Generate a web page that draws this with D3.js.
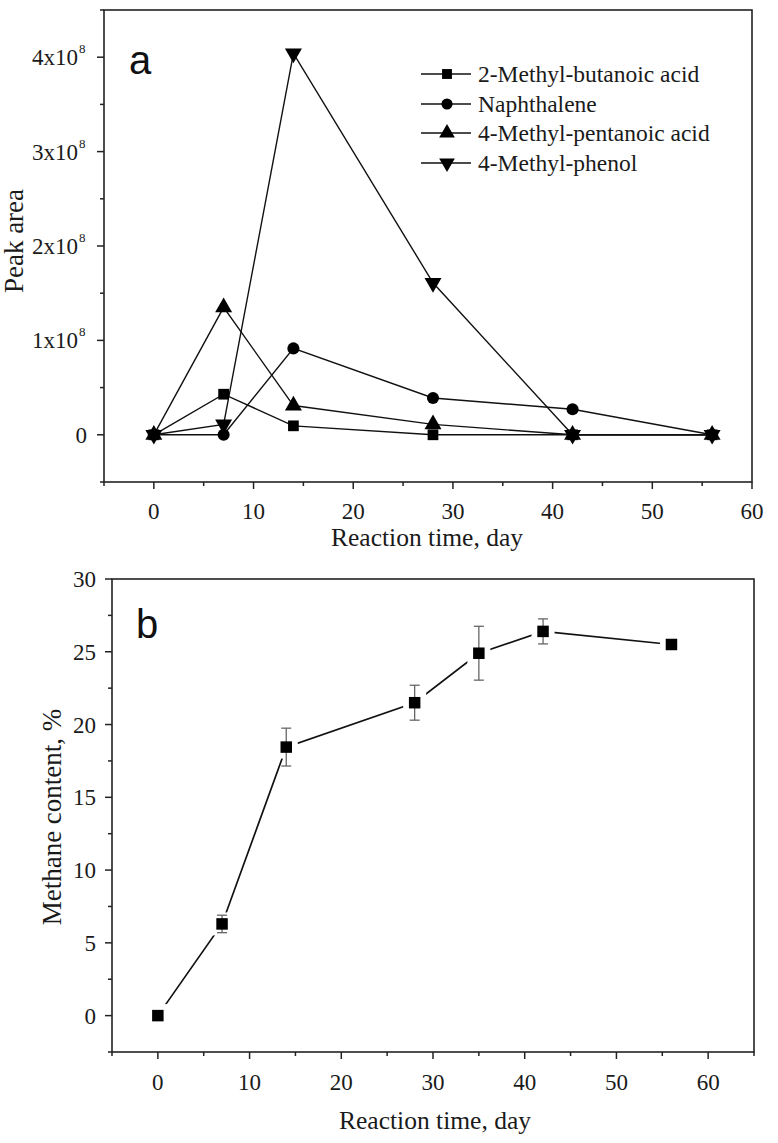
<!DOCTYPE html>
<html><head><meta charset="utf-8">
<script src="https://cdn.jsdelivr.net/npm/d3@7"></script>
<style>body{margin:0;background:#fff}svg{display:block}</style>
</head><body>
<svg id="c" width="778" height="1143"></svg>
<script>
// ---- Data: panel a ----
const daysA = [0, 7, 14, 28, 42, 56];
const seriesNames = ["2-Methyl-butanoic acid", "Naphthalene", "4-Methyl-pentanoic acid", "4-Methyl-phenol"];
const methylButanoic = [0, 0.43e8, 0.095e8, 0, 0, 0];
const naphthalene = [0, 0, 0.915e8, 0.39e8, 0.27e8, 0];
const methylPentanoic = [0, 1.35e8, 0.31e8, 0.11e8, 0, 0];
const methylPhenol = [0, 0.11e8, 4.04e8, 1.61e8, 0, 0];
const yTicksA = [0, 1e8, 2e8, 3e8, 4e8];
const yTickLabelsA = ["0", "1x10", "2x10", "3x10", "4x10"];
const xTicks = [0, 10, 20, 30, 40, 50, 60];

// ---- Data: panel b ----
const daysB = [0, 7, 14, 28, 35, 42, 56];
const methane = [0, 6.3, 18.45, 21.5, 24.9, 26.4, 25.5];
const methaneErr = [0, 0.6, 1.3, 1.2, 1.85, 0.86, 0];
const yTicksB = [0, 5, 10, 15, 20, 25, 30];

const svg = d3.select("#c");
const serif = "'Liberation Serif','Times New Roman',serif";
const sans = "'Liberation Sans',Arial,sans-serif";
const axisCol = "#222";
const txtCol = "#1a1a1a";

function frame(g, x, y) {
  const [x0, x1] = x.range(), [y0, y1] = y.range();
  g.append("rect").attr("x", x0).attr("y", y1).attr("width", x1 - x0).attr("height", y0 - y1)
    .attr("fill", "none").attr("stroke", axisCol).attr("stroke-width", 1.6);
}
function ticks(g, x, y, xMajor, xMinor, yMajor, yMinor) {
  const [x0] = x.range(), [y0] = y.range();
  g.selectAll(null).data(xMajor).join("line").attr("x1", d => x(d)).attr("x2", d => x(d))
    .attr("y1", y0).attr("y2", y0 + 7).attr("stroke", axisCol).attr("stroke-width", 1.5);
  g.selectAll(null).data(xMinor).join("line").attr("x1", d => x(d)).attr("x2", d => x(d))
    .attr("y1", y0).attr("y2", y0 + 4).attr("stroke", axisCol).attr("stroke-width", 1.5);
  g.selectAll(null).data(yMajor).join("line").attr("y1", d => y(d)).attr("y2", d => y(d))
    .attr("x1", x0).attr("x2", x0 - 7).attr("stroke", axisCol).attr("stroke-width", 1.5);
  g.selectAll(null).data(yMinor).join("line").attr("y1", d => y(d)).attr("y2", d => y(d))
    .attr("x1", x0).attr("x2", x0 - 4).attr("stroke", axisCol).attr("stroke-width", 1.5);
}

// ================= Panel a =================
const xA = d3.scaleLinear().domain([-5, 60]).range([104, 752]);
const yA = d3.scaleLinear().domain([-0.5e8, 4.5e8]).range([482, 10]);
const gA = svg.append("g");
ticks(gA, xA, yA, xTicks, [-5, 5, 15, 25, 35, 45, 55], yTicksA, [-0.5e8, 0.5e8, 1.5e8, 2.5e8, 3.5e8, 4.5e8]);

const symbolsA = [
  {type: d3.symbolSquare, size: 115, rot: 0},
  {type: d3.symbolCircle, size: 115, rot: 0},
  {type: d3.symbolTriangle, size: 125, rot: 0},
  {type: d3.symbolTriangle, size: 125, rot: 180}
];
const seriesA = [methylButanoic, naphthalene, methylPentanoic, methylPhenol];
const lineA = d3.line().x((d, i) => xA(daysA[i])).y(d => yA(d));
seriesA.forEach(s => {
  gA.append("path").attr("d", lineA(s)).attr("fill", "none").attr("stroke", "#111").attr("stroke-width", 1.4);
});
seriesA.forEach((s, k) => {
  const sym = d3.symbol().type(symbolsA[k].type).size(symbolsA[k].size)();
  gA.selectAll(null).data(s).join("path").attr("d", sym)
    .attr("transform", (d, i) => `translate(${xA(daysA[i])},${yA(d)}) rotate(${symbolsA[k].rot})`)
    .attr("fill", "#000");
});
frame(gA, xA, yA);

// y tick labels with superscript
gA.selectAll(null).data(yTicksA).join("text")
  .attr("x", d => d === 0 ? 87 : 78).attr("y", d => yA(d) + 8)
  .attr("text-anchor", "end").attr("font-family", serif).attr("font-size", 23).attr("fill", txtCol)
  .text((d, i) => yTickLabelsA[i]);
gA.selectAll(null).data(yTicksA.filter(d => d !== 0)).join("text")
  .attr("x", 79).attr("y", d => yA(d) - 4)
  .attr("font-family", serif).attr("font-size", 13).attr("fill", txtCol).text("8");
gA.selectAll(null).data(xTicks).join("text").attr("x", d => xA(d)).attr("y", 519)
  .attr("text-anchor", "middle").attr("font-family", serif).attr("font-size", 23).attr("fill", txtCol).text(d => d);
gA.append("text").attr("x", 427).attr("y", 546).attr("text-anchor", "middle")
  .attr("font-family", serif).attr("font-size", 25.5).attr("fill", txtCol).text("Reaction time, day");
gA.append("text").attr("transform", "translate(23,241) rotate(-90)").attr("text-anchor", "middle")
  .attr("font-family", serif).attr("font-size", 27).attr("fill", txtCol).text("Peak area");
gA.append("text").attr("x", 129).attr("y", 74).attr("font-family", sans).attr("font-size", 40).attr("fill", "#111").text("a");

// legend
const legY = [74, 104, 133, 163];
seriesNames.forEach((name, k) => {
  const ly = legY[k];
  gA.append("line").attr("x1", 421).attr("x2", 471).attr("y1", ly).attr("y2", ly).attr("stroke", "#111").attr("stroke-width", 1.4);
  gA.append("path").attr("d", d3.symbol().type(symbolsA[k].type).size(symbolsA[k].size * 0.85)())
    .attr("transform", `translate(447,${ly}) rotate(${symbolsA[k].rot})`).attr("fill", "#000");
  gA.append("text").attr("x", 478).attr("y", ly + 8).attr("font-family", serif).attr("font-size", 23.5)
    .attr("fill", txtCol).text(name);
});

// ================= Panel b =================
const xB = d3.scaleLinear().domain([-5, 65]).range([112, 754]);
const yB = d3.scaleLinear().domain([-2.5, 30]).range([1052, 579]);
const gB = svg.append("g");
ticks(gB, xB, yB, xTicks, [-5, 5, 15, 25, 35, 45, 55, 65], yTicksB, [-2.5, 2.5, 7.5, 12.5, 17.5, 22.5, 27.5]);

const lineB = d3.line().x((d, i) => xB(daysB[i])).y(d => yB(d));
gB.append("path").attr("d", lineB(methane)).attr("fill", "none").attr("stroke", "#111").attr("stroke-width", 1.7);
const sq = d3.symbol().type(d3.symbolSquare);
gB.selectAll(null).data(methane).join("path").attr("d", sq.size(23 * 23)())
  .attr("transform", (d, i) => `translate(${xB(daysB[i])},${yB(d)})`).attr("fill", "#fff");
const eb = methane.map((d, i) => ({x: daysB[i], v: d, e: methaneErr[i]})).filter(d => d.e > 0);
gB.selectAll(null).data(eb).join("line").attr("x1", d => xB(d.x)).attr("x2", d => xB(d.x))
  .attr("y1", d => yB(d.v - d.e)).attr("y2", d => yB(d.v + d.e)).attr("stroke", "#666").attr("stroke-width", 1.3);
["-", "+"].forEach(sg => {
  gB.selectAll(null).data(eb).join("line").attr("x1", d => xB(d.x) - 5).attr("x2", d => xB(d.x) + 5)
    .attr("y1", d => yB(sg === "+" ? d.v + d.e : d.v - d.e)).attr("y2", d => yB(sg === "+" ? d.v + d.e : d.v - d.e))
    .attr("stroke", "#666").attr("stroke-width", 1.3);
});
gB.selectAll(null).data(methane).join("path").attr("d", sq.size(11.5 * 11.5)())
  .attr("transform", (d, i) => `translate(${xB(daysB[i])},${yB(d)})`).attr("fill", "#000");
frame(gB, xB, yB);

gB.selectAll(null).data(yTicksB).join("text").attr("x", 96).attr("y", d => yB(d) + 8)
  .attr("text-anchor", "end").attr("font-family", serif).attr("font-size", 23).attr("fill", txtCol).text(d => d);
gB.selectAll(null).data(xTicks).join("text").attr("x", d => xB(d)).attr("y", 1090)
  .attr("text-anchor", "middle").attr("font-family", serif).attr("font-size", 23).attr("fill", txtCol).text(d => d);
gB.append("text").attr("x", 435).attr("y", 1129).attr("text-anchor", "middle")
  .attr("font-family", serif).attr("font-size", 25.5).attr("fill", txtCol).text("Reaction time, day");
gB.append("text").attr("transform", "translate(61,817) rotate(-90)").attr("text-anchor", "middle")
  .attr("font-family", serif).attr("font-size", 27).attr("fill", txtCol).text("Methane content, %");
gB.append("text").attr("x", 136).attr("y", 638).attr("font-family", sans).attr("font-size", 40).attr("fill", "#111").text("b");
</script>
</body></html>
